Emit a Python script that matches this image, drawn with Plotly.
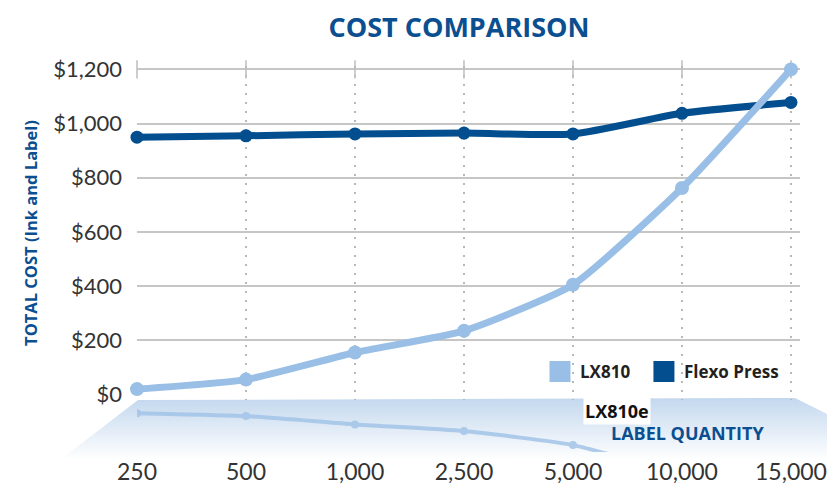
import plotly.graph_objects as go

# ---- data ----
quantities = ["250", "500", "1,000", "2,500", "5,000", "10,000", "15,000"]
lx810_cost = [20, 55, 155, 235, 405, 762, 1200]
flexo_cost = [950, 955, 962, 965, 962, 1038, 1078]
y_ticks = [0, 200, 400, 600, 800, 1000, 1200]
y_tick_labels = ["$0", "$200", "$400", "$600", "$800", "$1,000", "$1,200"]
series_names = ["LX810", "Flexo Press"]

W, H = 827, 498
LIGHT = "#99bfe6"
DARK = "#034e8e"
TITLE_BLUE = "#0b4f91"

fig = go.Figure()

# decorative gradient band (pixel-space decoration axes)
fig.add_trace(go.Scatter(
    x=[138, 795, 827, 827, 60, 138],
    y=[400, 398, 414, 460, 460, 400],
    xaxis="x", yaxis="y", mode="lines", line=dict(width=0),
    fill="toself",
    fillgradient=dict(type="vertical",
                      colorscale=[[0, "#ffffff"], [1, "#c3d8ee"]]),
    hoverinfo="skip", showlegend=False))

# reflection of LX810
fig.add_trace(go.Scatter(
    x=quantities, y=lx810_cost, xaxis="x3", yaxis="y3",
    mode="lines+markers", line=dict(color="#a3c4e8", width=4, shape="spline", smoothing=0.5),
    marker=dict(size=8, color="#a3c4e8"), opacity=0.85,
    hoverinfo="skip", showlegend=False))

# top tick marks
fig.add_trace(go.Scatter(
    x=quantities, y=[1200] * len(quantities), xaxis="x2", yaxis="y2",
    mode="markers", marker=dict(symbol="line-ns", size=13,
                                line=dict(width=1.5, color="#bdbdbd")),
    hoverinfo="skip", showlegend=False, cliponaxis=False))

fig.add_trace(go.Scatter(
    x=quantities, y=flexo_cost, xaxis="x2", yaxis="y2", name=series_names[1],
    mode="lines+markers", line=dict(color=DARK, width=7, shape="spline", smoothing=0.6),
    marker=dict(size=13, color=DARK), showlegend=False, cliponaxis=False))

fig.add_trace(go.Scatter(
    x=quantities, y=lx810_cost, xaxis="x2", yaxis="y2", name=series_names[0],
    mode="lines+markers", line=dict(color=LIGHT, width=7, shape="spline", smoothing=0.5),
    marker=dict(size=14, color=LIGHT), showlegend=False, cliponaxis=False))

# legend entries (square swatches)
for nm, col, rk in [(series_names[0] + "\u00a0\u00a0", LIGHT, 1), (series_names[1], DARK, 2)]:
    fig.add_trace(go.Scatter(
        x=[None], y=[None], xaxis="x2", yaxis="y2", name=nm, mode="markers",
        marker=dict(symbol="square", size=24, color=col, line=dict(width=6, color=col)),
        legendrank=rk))

x_dom = [137 / W, 800 / W]
fig.update_layout(
    width=W, height=H, margin=dict(l=0, r=0, t=0, b=0, autoexpand=False),
    paper_bgcolor="white", plot_bgcolor="rgba(0,0,0,0)",
    title=dict(text="COST COMPARISON", x=459 / W, xanchor="center", y=1 - 28 / H, yanchor="middle",
               font=dict(family="Open Sans", size=27, color=TITLE_BLUE, weight="bold")),
    xaxis=dict(domain=[0, 1], range=[0, W], visible=False, fixedrange=True, automargin=False),
    yaxis=dict(domain=[0, 1], range=[H, 0], visible=False, fixedrange=True, automargin=False),
    xaxis2=dict(domain=x_dom, anchor="y2", type="category", range=[0, 6.083],
                showgrid=True, gridcolor="#b8b8b8", gridwidth=1.5, griddash="2px,7px",
                showline=False, zeroline=False, ticks="", automargin=False,
                tickfont=dict(family="Lato", size=23, color="#333333"),
                ticklabelstandoff=56),
    yaxis2=dict(domain=[98 / H, 432 / H], anchor="x2", range=[-20.3, 1212.6],
                tickvals=y_ticks, ticktext=y_tick_labels, automargin=False,
                showgrid=True, gridcolor="#c6c6c6", gridwidth=1.5,
                zeroline=True, zerolinecolor="rgba(0,0,0,0)",
                showline=False, ticks="", ticklabelstandoff=14,
                tickfont=dict(family="Lato", size=22, color="#333333"),
                title=dict(text="TOTAL COST (Ink and Label)", standoff=11,
                           font=dict(family="Open Sans", size=16.5, color=TITLE_BLUE, weight="bold"))),
    xaxis3=dict(domain=x_dom, anchor="y3", type="category", matches="x2",
                visible=False, showgrid=False, automargin=False),
    yaxis3=dict(domain=[46 / H, 98 / H], anchor="x3", range=[488, -139],
                visible=False, showgrid=False, automargin=False),
    legend=dict(orientation="h", x=540 / W, xanchor="left", y=1 - 372 / H, yanchor="middle",
                bgcolor="rgba(0,0,0,0)", itemsizing="trace",
                font=dict(family="Open Sans", size=17, color="#231f20", weight="bold")),
    annotations=[
        dict(text="LX810e", x=583 / W, y=1 - 411 / H, xref="paper", yref="paper",
             xanchor="left", yanchor="middle", showarrow=False, bgcolor="white",
             font=dict(family="Open Sans", size=18, color="#111111", weight="bold")),
        dict(text="LABEL QUANTITY", x=687 / W, y=1 - 433 / H, xref="paper", yref="paper",
             xanchor="center", yanchor="middle", showarrow=False,
             font=dict(family="Open Sans", size=18, color=TITLE_BLUE, weight="bold")),
    ],
)

fig.write_html("out.html", config={"displayModeBar": False},
               post_script="document.body.style.margin='0';document.body.style.padding='0';")
